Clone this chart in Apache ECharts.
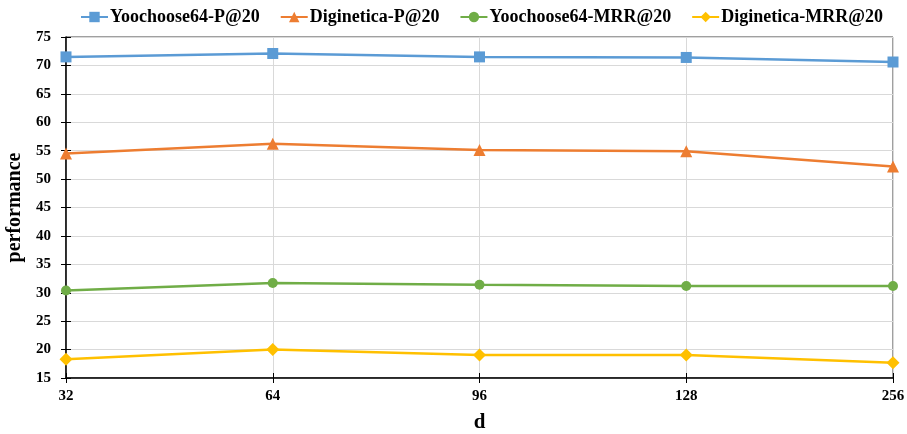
<!DOCTYPE html>
<html>
<head>
<meta charset="utf-8">
<script src="https://cdn.jsdelivr.net/npm/echarts@6/dist/echarts.min.js"></script>
<style>
  html, body { margin: 0; padding: 0; background: #fff; }
  #chart { width: 907px; height: 434px; }
</style>
</head>
<body>
<div id="chart"></div>
<script>
const categories = ['32', '64', '96', '128', '256'];
const yooP = [71.5, 72.1, 71.5, 71.4, 70.6];
const digiP = [54.5, 56.2, 55.1, 54.9, 52.2];
const yooMRR = [30.4, 31.7, 31.4, 31.2, 31.2];
const digiMRR = [18.3, 20.0, 19.05, 19.05, 17.7];

const font = 'Liberation Serif';
const chart = echarts.init(document.getElementById('chart'));

const colors = {
  blue: '#5B9BD5',
  orange: '#ED7D31',
  green: '#70AD47',
  yellow: '#FFC000',
  grid: '#d9d9d9'
};

function line(name, data, color, symbol, size) {
  return {
    name,
    type: 'line',
    data,
    symbol,
    symbolSize: size,
    lineStyle: { color, width: 2.5 },
    itemStyle: { color },
    emphasis: { disabled: true }
  };
}

chart.setOption({
  backgroundColor: '#fff',
  animation: false,
  textStyle: { fontFamily: font },
  grid: {
    left: 66, right: 14, top: 37, bottom: 56,
    outerBoundsMode: 'none',
    containLabel: false,
    show: true,
    borderColor: '#404040',
    borderWidth: 1
  },
  legend: {
    top: 3,
    left: 75,
    itemWidth: 27,
    itemHeight: 13,
    itemGap: 20,
    textStyle: { fontFamily: font, fontWeight: 'bold', fontSize: 18, color: '#000', padding: [0, 0, 0, -3] }
  },
  xAxis: [
    {
      type: 'category',
      data: categories,
      boundaryGap: false,
      name: 'd',
      nameLocation: 'middle',
      nameGap: 34,
      nameTextStyle: { fontFamily: font, fontWeight: 'bold', fontSize: 21, color: '#000' },
      axisLine: { lineStyle: { color: '#000', width: 1.5 } },
      axisTick: { show: true, length: 5, lineStyle: { color: '#000' } },
      axisLabel: { color: '#000', fontWeight: 'bold', fontSize: 15, margin: 11 },
      splitLine: { show: true, lineStyle: { color: colors.grid, width: 1 } }
    },
    {
      type: 'category',
      data: categories,
      boundaryGap: false,
      position: 'bottom',
      axisLine: { show: false },
      axisTick: { show: true, inside: true, length: 5, lineStyle: { color: '#000' } },
      axisLabel: { show: false },
      splitLine: { show: false }
    }
  ],
  yAxis: [
    {
      type: 'value',
      min: 15,
      max: 75,
      interval: 5,
      name: 'performance',
      nameLocation: 'middle',
      nameGap: 39,
      nameTextStyle: { fontFamily: font, fontWeight: 'bold', fontSize: 20, color: '#000' },
      axisLine: { show: true, lineStyle: { color: '#000', width: 1.5 } },
      axisTick: { show: true, length: 5, lineStyle: { color: '#000' } },
      axisLabel: { color: '#000', fontWeight: 'bold', fontSize: 15, margin: 15 },
      splitLine: { show: true, lineStyle: { color: colors.grid, width: 1.2 } }
    },
    {
      type: 'value',
      min: 15,
      max: 75,
      interval: 5,
      position: 'left',
      axisLine: { show: false },
      axisTick: { show: true, inside: true, length: 5, lineStyle: { color: '#000' } },
      axisLabel: { show: false },
      splitLine: { show: false }
    }
  ],
  series: [
    line('Yoochoose64-P@20', yooP, colors.blue, 'rect', 11),
    line('Diginetica-P@20', digiP, colors.orange, 'triangle', 12),
    line('Yoochoose64-MRR@20', yooMRR, colors.green, 'circle', 10),
    line('Diginetica-MRR@20', digiMRR, colors.yellow, 'diamond', 13)
  ]
});

window.addEventListener('resize', () => chart.resize());
</script>
</body>
</html>
